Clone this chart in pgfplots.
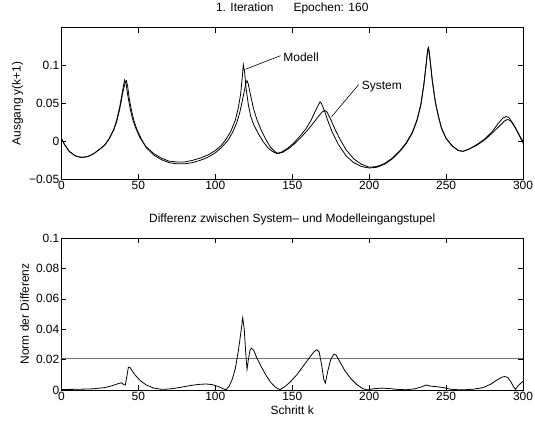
\documentclass[border=0pt]{standalone}
\usepackage{fontspec}
\setmainfont{Liberation Sans}
\usepackage{pgfplots}
\pgfplotsset{compat=1.18}

% System output (lagging, lower peaks)
\pgfplotstableread{
k y
0 0.004
2 -0.004
5 -0.013
9 -0.019
13 -0.021
17 -0.020
21 -0.016
25 -0.010
28 -0.005
31 0.003
34 0.015
36 0.027
38 0.044
40 0.066
41.5 0.078
42.2 0.080
43 0.073
44 0.057
45.5 0.041
47 0.028
49 0.016
52 0.003
55 -0.008
60 -0.018
65 -0.024
70 -0.028
75 -0.0295
80 -0.0295
85 -0.028
90 -0.025
95 -0.021
100 -0.015
104 -0.008
108 0.001
111 0.011
114 0.025
116 0.039
118 0.058
119.8 0.076
120.6 0.080
121.4 0.076
123 0.060
125 0.042
127 0.029
130 0.014
133 0.002
136 -0.008
139 -0.014
141 -0.016
144 -0.014
148 -0.009
152 -0.002
156 0.006
160 0.015
164 0.025
167 0.033
169.5 0.039
171 0.041
172.5 0.039
175 0.029
178 0.015
181 0.003
185 -0.011
190 -0.023
195 -0.030
200 -0.034
205 -0.033
210 -0.029
215 -0.022
220 -0.012
224 -0.002
228 0.012
231 0.028
233.5 0.048
235.5 0.075
237 0.101
238 0.119
238.7 0.122
239.5 0.110
241 0.080
243 0.052
245 0.033
247 0.018
250 0.004
254 -0.006
258 -0.012
261 -0.013
265 -0.010
270 -0.005
275 0.002
280 0.011
285 0.021
288 0.027
290 0.029
292 0.027
295 0.018
298 0.007
300 0.000
}\system

% Model output
\pgfplotstableread{
k y
0 0.004
2 -0.004
5 -0.013
9 -0.019
13 -0.021
17 -0.020
21 -0.016
25 -0.010
28 -0.005
31 0.004
34 0.016
36 0.029
38 0.047
40 0.070
41 0.081
42 0.076
43 0.062
44.5 0.045
46 0.031
48 0.019
51 0.005
55 -0.007
60 -0.016
65 -0.022
70 -0.026
75 -0.027
80 -0.027
85 -0.025
90 -0.022
95 -0.018
100 -0.012
104 -0.005
107 0.003
110 0.013
113 0.028
115 0.045
116.5 0.063
117.5 0.084
118.2 0.101
119 0.092
120 0.070
121.5 0.048
123 0.033
125 0.022
128 0.010
131 0.000
134 -0.008
137 -0.013
140 -0.016
143 -0.014
147 -0.009
151 -0.002
155 0.007
159 0.017
162 0.027
165 0.040
167 0.048
168 0.052
169 0.050
171 0.040
173 0.028
176 0.012
180 -0.004
185 -0.019
190 -0.028
195 -0.033
200 -0.035
205 -0.034
210 -0.030
215 -0.023
220 -0.013
224 -0.003
228 0.011
231 0.027
233.5 0.047
235.5 0.074
237 0.101
238 0.121
238.5 0.124
239.3 0.112
241 0.081
243 0.052
245 0.033
247 0.017
250 0.004
254 -0.006
258 -0.012
261 -0.013
265 -0.010
270 -0.004
275 0.003
280 0.013
284 0.024
287 0.031
289 0.033
291 0.031
294 0.022
297 0.010
300 -0.002
}\modell

% Norm of the difference of input tuples
\pgfplotstableread{
k d
0 0.0003
10 0.0004
20 0.0007
28 0.0015
33 0.0028
37 0.0042
39 0.0047
40.5 0.0035
41.5 0.0032
42.5 0.0090
43.5 0.0150
44.5 0.0148
46 0.0125
48 0.0097
51 0.0063
55 0.0033
60 0.0012
65 0.0004
70 0.0006
75 0.0013
80 0.0022
85 0.0031
90 0.0037
94 0.0039
98 0.0035
102 0.0022
105 0.0008
107 0.0001
109 0.0025
111 0.0070
113 0.0140
115 0.0260
116.5 0.0370
117.8 0.0475
118.8 0.0400
119.8 0.0240
120.6 0.0135
121.5 0.0200
122.5 0.0260
123.5 0.0275
125 0.0260
127 0.0210
130 0.0150
133 0.0095
136 0.0050
139 0.0018
142 0.0002
145 0.0020
149 0.0055
153 0.0100
157 0.0155
161 0.0210
164 0.0250
166 0.0265
167.5 0.0250
169 0.0170
170.5 0.0070
171.5 0.0045
173 0.0120
175 0.0200
177 0.0235
178.5 0.0230
181 0.0185
184 0.0130
188 0.0075
192 0.0035
196 0.0008
199 0.0000
203 0.0008
208 0.0012
213 0.0009
218 0.0004
224 0.0001
230 0.0008
234 0.0020
237 0.0032
240 0.0025
245 0.0020
249 0.0014
252 0.0006
256 0.0002
262 0.0001
268 0.0005
274 0.0015
279 0.0038
283 0.0065
286 0.0083
288 0.0088
290 0.0083
292 0.0055
294 0.0018
295 0.0004
297 0.0030
300 0.0057
}\differenz

\pgfplotsset{
  matlab/.style={
    scale only axis,
    width=463.3bp, height=152.4bp,
    anchor=south west,
    xmin=0, xmax=300,
    xtick={0,50,...,300},
    xticklabels={0,50,100,150,200,250,300},
    tick align=inside,
    tick pos=both,
    major tick length=5bp,
    axis line style={line width=0.8bp},
    every tick/.style={black, line width=0.6bp},
    tick label style={font=\fontsize{12bp}{14bp}\selectfont},
    label style={font=\fontsize{12bp}{14bp}\selectfont},
    title style={font=\fontsize{12bp}{14bp}\selectfont, at={(axis description cs:0.5,1)}, anchor=base, yshift=9.7bp},
    xticklabel style={inner sep=2bp},
    yticklabel style={inner sep=2bp},
  }
}

\begin{document}
\begin{tikzpicture}
\path (0,0) rectangle (535bp,421bp);

\begin{axis}[matlab,
  at={(61.7bp,245.6bp)},
  ymin=-0.05, ymax=0.15,
  ytick={-0.05,0,0.05,0.1},
  yticklabels={−0.05,0,0.05,0.1},
  ylabel={Ausgang y(k+1)},
  ylabel style={at={(axis description cs:0,0.5)}, anchor=center, yshift=44bp},
  title={1. Iteration\hspace{20bp}Epochen: 160},
]
  \addplot[black, line width=0.8bp] table[x=k, y=y] {\system};
  \addplot[black, line width=0.8bp] table[x=k, y=y] {\modell};
  \draw[black, line width=0.6bp] (axis cs:119.6,0.0951) -- (axis cs:142.4,0.113);
  \node[anchor=west, inner sep=1bp, font=\fontsize{12bp}{14bp}\selectfont] at (axis cs:143.5,0.1106) {Modell};
  \draw[black, line width=0.6bp] (axis cs:175.5,0.0324) -- (axis cs:193.2,0.075);
  \node[anchor=west, inner sep=1bp, font=\fontsize{12bp}{14bp}\selectfont] at (axis cs:194.5,0.0727) {System};
\end{axis}

\begin{axis}[matlab,
  at={(61.7bp,34.3bp)},
  ymin=0, ymax=0.1,
  ytick={0,0.02,0.04,0.06,0.08,0.1},
  yticklabels={0,0.02,0.04,0.06,0.08,0.1},
  ylabel={Norm der Differenz},
  ylabel style={at={(axis description cs:0,0.5)}, anchor=center, yshift=37bp},
  xlabel={Schritt k},
  title={Differenz zwischen System– und Modelleingangstupel},
]
  \addplot[black!55, line width=0.9bp] coordinates {(0,0.021) (300,0.021)};
  \addplot[black, line width=0.8bp] table[x=k, y=d] {\differenz};
\end{axis}
\end{tikzpicture}
\end{document}
